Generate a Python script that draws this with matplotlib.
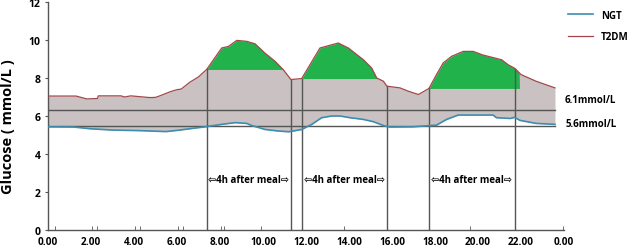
import matplotlib.pyplot as plt
import numpy as np

plt.rcParams['font.family'] = ['Open Sans', 'DejaVu Sans']
plt.rcParams['font.weight'] = 'bold'

# Data (hours of day, glucose mmol/L)
t2dm_h = [0.0, 1.3, 1.8, 2.3, 2.34, 3.4, 3.55, 3.85, 4.74, 5.0, 5.2, 5.67, 5.98, 6.2,
          6.6, 6.99, 7.38, 8.08, 8.39, 8.78, 9.24, 9.63, 10.09, 10.56, 10.94, 11.3,
          11.8, 12.65, 13.2, 13.5, 13.97, 14.67, 15.05, 15.29, 15.6, 15.76, 16.37,
          16.77, 17.23, 17.72, 18.07, 18.38, 18.77, 19.31, 19.78, 20.2, 21.1, 21.4,
          21.72, 22.0, 22.7, 23.58]
t2dm_v = [7.05, 7.05, 6.9, 6.92, 7.06, 7.06, 7.0, 7.06, 6.97, 6.98, 7.06, 7.27, 7.38, 7.42,
          7.78, 8.05, 8.45, 9.58, 9.66, 9.98, 9.93, 9.8, 9.31, 8.88, 8.44, 7.92,
          7.97, 9.58, 9.75, 9.84, 9.58, 8.96, 8.53, 8.0, 7.83, 7.57, 7.48,
          7.3, 7.13, 7.45, 8.18, 8.79, 9.14, 9.4, 9.4, 9.22, 8.96, 8.7,
          8.5, 8.18, 7.83, 7.48]

ngt_h = [0.0, 1.2, 1.95, 3.0, 4.28, 5.5, 6.14, 6.6, 7.3, 8.08, 8.7, 9.24, 9.47, 10.1,
         10.7, 11.2, 11.8, 12.27, 12.73, 13.2, 13.58, 14.05, 14.67, 15.13, 15.67,
         15.9, 16.97, 18.07, 18.54, 19.08, 20.1, 20.7, 20.86, 21.5, 21.7, 21.95,
         22.7, 23.58]
ngt_v = [5.43, 5.42, 5.33, 5.26, 5.23, 5.18, 5.26, 5.33, 5.43, 5.56, 5.65, 5.61, 5.5, 5.29,
         5.21, 5.17, 5.29, 5.56, 5.91, 6.0, 6.0, 5.91, 5.82, 5.7, 5.47,
         5.42, 5.43, 5.52, 5.82, 6.05, 6.05, 6.05, 5.91, 5.87, 5.93, 5.77,
         5.61, 5.56]

meal_start = [7.38, 11.8, 17.72]
meal_end = [11.3, 15.76, 21.72]
thresholds = [6.29, 5.47]
threshold_labels = ["6.1mmol/L", "5.6mmol/L"]

xtick_pos = [0, 2, 4, 6, 8, 10, 12, 14, 16, 18, 20, 22, 24]
xtick_labels = ["0.00", "2.00", "4.00", "6.00", "8.00", "10.00", "12.00",
                "14.00", "16.00", "18.00", "20.00", "22.00", "0.00"]
minor_ticks = [0.33, 2.05, 2.28, 4.05, 4.28, 6.05, 6.28, 8.05, 8.19, 9.9, 13.77, 19.63, 23.95]

# Colors
c_gray = "#c9c1c2"
c_green = "#22b24c"
c_t2dm = "#a3474b"
c_ngt = "#3d8db0"
c_line = "#555555"

fig = plt.figure(figsize=(6.3, 2.51), dpi=100)
ax = fig.add_axes([48 / 630, 20 / 251, (564 - 48) / 630, (232 - 4) / 251])

# dense grid for fills
xx = np.linspace(0, t2dm_h[-1], 2000)
t2 = np.interp(xx, t2dm_h, t2dm_v)
ng = np.interp(xx, ngt_h, ngt_v)

ax.fill_between(xx, ng, t2, color=c_gray, lw=0, zorder=1)
for s in meal_start:
    level = np.interp(s, t2dm_h, t2dm_v)
    ax.fill_between(xx, level, t2, where=(xx >= s) & (t2 >= level) & (xx <= s + 4.2),
                    interpolate=True, color=c_green, lw=0, zorder=2)

for y in thresholds:
    ax.plot([0, t2dm_h[-1]], [y, y], color=c_line, lw=1.0, zorder=3)

for s in meal_start + meal_end:
    ax.plot([s, s], [0, np.interp(s, t2dm_h, t2dm_v)], color=c_line, lw=1.0, zorder=3)

ax.plot(ngt_h, ngt_v, color=c_ngt, lw=1.2, zorder=4, label="NGT")
ax.plot(t2dm_h, t2dm_v, color=c_t2dm, lw=0.9, zorder=4, label="T2DM")

for s, e in zip(meal_start, meal_end):
    ax.text((s + e) / 2, 2.67, "⇦4h after meal⇨", ha='center', va='center',
            fontsize=7, fontweight='bold')

for y, lab in zip([6.87, 5.59], threshold_labels):
    ax.text(24.05, y, lab, ha='left', va='center', fontsize=7, fontweight='bold',
            clip_on=False)

ax.set_xlim(0, 24)
ax.set_ylim(0, 12)
ax.set_xticks(xtick_pos)
ax.set_xticklabels(xtick_labels)
ax.set_xticks(minor_ticks, minor=True)
ax.set_yticks([0, 2, 4, 6, 8, 10, 12])
ax.tick_params(axis='x', which='major', length=0, pad=4.5, labelsize=7.2)
ax.tick_params(axis='x', which='minor', direction='in', length=3, color=c_line)
ax.tick_params(axis='y', length=2.5, pad=3, labelsize=7.5, color=c_line)
for lab in ax.get_xticklabels() + ax.get_yticklabels():
    lab.set_fontweight('bold')

ax.set_ylabel("Glucose ( mmol/L )", fontsize=10.5, fontweight='bold')
ax.yaxis.set_label_coords(-0.063, 0.456)

for sp in ["top", "right"]:
    ax.spines[sp].set_visible(False)
for sp in ["left", "bottom"]:
    ax.spines[sp].set_color(c_line)
    ax.spines[sp].set_linewidth(1.0)

leg = ax.legend(loc='upper left', bbox_to_anchor=(0.99, 1.005), frameon=False,
                fontsize=7, handlelength=2.6, handletextpad=0.8, labelspacing=1.1)
for txt in leg.get_texts():
    txt.set_fontweight('bold')

fig.savefig("out.png", dpi=100)
